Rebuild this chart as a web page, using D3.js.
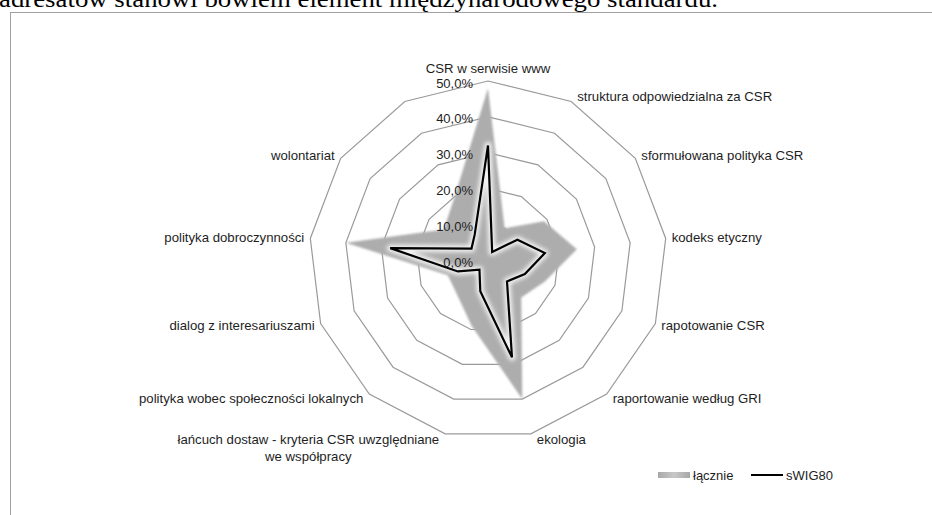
<!DOCTYPE html>
<html>
<head>
<meta charset="utf-8">
<script src="https://cdn.jsdelivr.net/npm/d3@7"></script>
<style>
  body { margin: 0; background: #fff; }
  svg { display: block; }
  .cat_label { font-family: "Liberation Sans", Arial, sans-serif; font-size: 13.2px; fill: #1e1e1e; }
  .tick_label { font-family: "Liberation Sans", Arial, sans-serif; font-size: 13px; fill: #1e1e1e; }
  .legend_item_text { font-family: "Liberation Sans", Arial, sans-serif; font-size: 13px; fill: #1e1e1e; }
</style>
</head>
<body>
<div id="chart"></div>
<script>
// categories clockwise from the top (last spoke has no label in the original)
const categories = [
  "CSR w serwisie www",
  "struktura odpowiedzialna za CSR",
  "sformułowana polityka CSR",
  "kodeks etyczny",
  "rapotowanie CSR",
  "raportowanie według GRI",
  "ekologia",
  "łańcuch dostaw - kryteria CSR uwzględniane we współpracy",
  "polityka wobec społeczności lokalnych",
  "dialog z interesariuszami",
  "polityka dobroczynności",
  "wolontariat",
  ""
]
// values in %
const lacznie = [48, 10, 19, 25, 17, 14, 40, 19, 13, 12, 40, 15, 20]
const swig80 = [32, 2.5, 10, 16, 11, 8, 28, 9, 3.6, 9, 27.5, 5.6, 8]
const ticks = [0, 10, 20, 30, 40, 50]
const seriesNames = ["łącznie", "sWIG80"]

const width = 932, height = 515
const cx = 488, cy = 260, R = 179
const n = categories.length

let svg = d3.select("#chart").append("svg")
  .attr("width", width)
  .attr("height", height)

let defs = svg.append("defs")
let grad = defs.append("radialGradient").attr("id", "areaGrad")
  .attr("gradientUnits", "userSpaceOnUse")
  .attr("cx", cx).attr("cy", cy).attr("r", R)
grad.append("stop").attr("offset", "0").attr("stop-color", "#ececec")
grad.append("stop").attr("offset", "0.5").attr("stop-color", "#dedede")
grad.append("stop").attr("offset", "1").attr("stop-color", "#adadad")

defs.append("filter").attr("id", "soft")
  .append("feGaussianBlur").attr("stdDeviation", 1.2)
defs.append("filter").attr("id", "glow").attr("x", "-20%").attr("y", "-20%").attr("width", "140%").attr("height", "140%")
  .append("feGaussianBlur").attr("stdDeviation", 2)

let legendGrad = defs.append("linearGradient").attr("id", "legGrad")
legendGrad.append("stop").attr("offset", "0").attr("stop-color", "#a8a8a8")
legendGrad.append("stop").attr("offset", "0.5").attr("stop-color", "#c8c8c8")
legendGrad.append("stop").attr("offset", "1").attr("stop-color", "#a8a8a8")

// text of the document above the chart (cut off at the top)
svg.append("text")
  .attr("x", -1).attr("y", 7)
  .attr("textLength", 719).attr("lengthAdjust", "spacingAndGlyphs")
  .style("font-family", "'Liberation Serif', 'Times New Roman', serif")
  .style("font-size", "24px")
  .style("fill", "#000")
  .text("adresatów stanowi bowiem element międzynarodowego standardu.")

// chart frame
svg.append("rect")
  .attr("x", 10.5).attr("y", 12.5)
  .attr("width", 960).attr("height", 540)
  .style("fill", "#fff")
  .style("stroke", "#a0a0a0")
  .style("stroke-width", 1)

let angle = d3.scaleLinear().domain([0, n]).range([0, 2 * Math.PI])
let r = d3.scaleLinear().domain([0, 50]).range([0, R])

let g = svg.append("g").attr("transform", `translate(${cx},${cy})`)

// rings
let ringLine = d3.lineRadial()
  .angle((d, i) => angle(i))
  .curve(d3.curveLinearClosed)

g.selectAll(".ring")
  .data(ticks.filter(t => t > 0))
  .join("path")
  .attr("class", "ring")
  .attr("d", t => ringLine.radius(() => r(t))(categories))
  .style("fill", "none")
  .style("stroke", "#9a9a9a")
  .style("stroke-width", 1.2)

// łącznie area
let area = d3.lineRadial()
  .angle((d, i) => angle(i))
  .radius(d => r(d))
  .curve(d3.curveLinearClosed)

g.append("path")
  .attr("d", area(lacznie))
  .style("fill", "url(#areaGrad)")
  .attr("filter", "url(#soft)")

// sWIG80 line with a soft white halo
g.append("path")
  .attr("d", area(swig80))
  .style("fill", "none")
  .style("stroke", "#fff")
  .style("stroke-width", 7)
  .style("stroke-linejoin", "round")
  .style("opacity", 0.85)
  .attr("filter", "url(#glow)")

g.append("path")
  .attr("d", area(swig80))
  .style("fill", "none")
  .style("stroke", "#000")
  .style("stroke-width", 2.2)
  .style("stroke-linejoin", "miter")

// tick labels along the top spoke
let fmt = d => d3.format(".1f")(d).replace(".", ",") + "%"
g.selectAll(".tick_label")
  .data(ticks)
  .join("text")
  .attr("class", "tick_label")
  .attr("x", -15)
  .attr("y", t => -r(t) + 2)
  .attr("dy", "0.35em")
  .attr("text-anchor", "end")
  .text(fmt)

// category labels
const maxLabelWidth = 272
categories.forEach((name, i) => {
  if (!name) return
  let a = angle(i)
  let s = Math.sin(a), c = Math.cos(a)
  let px = R * s, py = -R * c
  let anchor = Math.abs(s) < 0.1 ? "middle" : (s > 0 ? "start" : "end")
  let x = Math.abs(s) < 0.1 ? px : px + (s > 0 ? 6 : -6)
  let y = Math.abs(s) < 0.1 ? py - 13 : py - c * 6

  let t = g.append("text").attr("class", "cat_label")
    .attr("y", y).attr("dy", "0.35em")

  // simple word wrap
  let words = name.split(" "), lines = [], cur = ""
  words.forEach(w => {
    let test = cur ? cur + " " + w : w
    t.text(test)
    if (t.node().getComputedTextLength() > maxLabelWidth && cur) {
      lines.push(cur)
      cur = w
    } else cur = test
  })
  lines.push(cur)
  t.text(null)

  if (lines.length === 1) {
    t.attr("x", x).attr("text-anchor", anchor).text(lines[0])
  } else {
    // block aligned to the spoke, lines centred within the block
    let widths = lines.map(l => { t.text(l); return t.node().getComputedTextLength() })
    t.text(null)
    let bw = d3.max(widths)
    let mid = anchor === "end" ? x - bw / 2 : anchor === "start" ? x + bw / 2 : x
    lines.forEach((l, k) => {
      t.append("tspan").attr("x", mid).attr("text-anchor", "middle")
        .attr("dy", k === 0 ? "0.35em" : "1.3em").text(l)
    })
    t.attr("dy", null)
  }
})

// legend
let legend = svg.append("g")
legend.append("rect").attr("x", 658).attr("y", 472).attr("width", 32).attr("height", 6).style("fill", "url(#legGrad)")
legend.append("text").attr("x", 693).attr("y", 475).attr("dy", "0.35em").text(seriesNames[0]).attr("class", "legend_item_text")
legend.append("line").attr("x1", 751).attr("x2", 783).attr("y1", 475).attr("y2", 475).style("stroke", "#000").style("stroke-width", 2)
legend.append("text").attr("x", 786).attr("y", 475).attr("dy", "0.35em").text(seriesNames[1]).attr("class", "legend_item_text")
</script>
</body>
</html>
